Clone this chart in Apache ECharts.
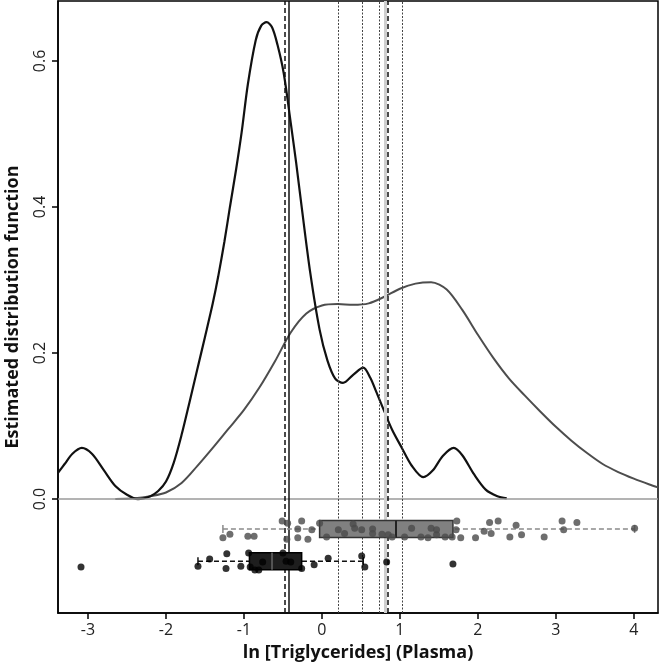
<!DOCTYPE html>
<html>
<head>
<meta charset="utf-8">
<script src="https://cdn.jsdelivr.net/npm/echarts@6/dist/echarts.min.js"></script>
<style>
  html, body { margin: 0; background: #fff; }
  #chart { width: 660px; height: 667px; }
</style>
</head>
<body>
<div id="chart"></div>
<script>
// axis ticks
const xTicks = [-3, -2, -1, 0, 1, 2, 3, 4];
const yTicks = [0, 0.2, 0.4, 0.6];

// density estimates [x, density]
const blackDensity = [
  [-3.385, 0.036], [-3.3, 0.048], [-3.2, 0.062], [-3.08, 0.07], [-2.95, 0.062],
  [-2.8, 0.04], [-2.65, 0.018], [-2.5, 0.006], [-2.36, 0.0], [-2.2, 0.004],
  [-2.1, 0.011], [-2.0, 0.024], [-1.9, 0.05], [-1.8, 0.088], [-1.7, 0.132],
  [-1.6, 0.177], [-1.5, 0.222], [-1.4, 0.268], [-1.33, 0.305], [-1.25, 0.353],
  [-1.18, 0.40], [-1.1, 0.452], [-1.03, 0.502], [-0.95, 0.568], [-0.85, 0.628],
  [-0.78, 0.648], [-0.71, 0.653], [-0.64, 0.646], [-0.57, 0.622], [-0.49, 0.583],
  [-0.4, 0.515], [-0.33, 0.46], [-0.26, 0.40], [-0.15, 0.31], [-0.03, 0.232],
  [0.07, 0.19], [0.17, 0.165], [0.27, 0.159], [0.4, 0.17], [0.53, 0.18],
  [0.62, 0.166], [0.7, 0.146], [0.8, 0.12], [0.9, 0.095], [1.02, 0.071],
  [1.15, 0.046], [1.3, 0.03], [1.42, 0.039], [1.55, 0.059], [1.69, 0.07],
  [1.8, 0.06], [1.95, 0.034], [2.1, 0.013], [2.25, 0.004], [2.37, 0.001]
];
const grayDensity = [
  [-2.65, 0.0], [-2.4, 0.001], [-2.2, 0.004], [-2.0, 0.009], [-1.8, 0.022],
  [-1.6, 0.045], [-1.4, 0.07], [-1.2, 0.096], [-1.0, 0.122], [-0.8, 0.153],
  [-0.6, 0.189], [-0.4, 0.228], [-0.2, 0.254], [0.0, 0.265], [0.2, 0.267],
  [0.4, 0.266], [0.6, 0.268], [0.8, 0.277], [1.0, 0.288], [1.2, 0.295],
  [1.4, 0.297], [1.6, 0.287], [1.8, 0.259], [2.0, 0.225], [2.2, 0.193],
  [2.4, 0.165], [2.6, 0.142], [2.8, 0.12], [3.0, 0.099], [3.2, 0.08],
  [3.4, 0.063], [3.6, 0.048], [3.8, 0.037], [4.0, 0.028], [4.2, 0.02], [4.31, 0.016]
];

// box statistics [yCentre, low whisker, q1, median, q3, high whisker]
const grayBox = [[-0.041, -1.27, -0.03, 0.95, 1.68, 4.01]];
const blackBox = [[-0.085, -1.59, -0.93, -0.64, -0.26, 0.53]];

// jittered observations [x, y]
const grayPoints = [
  [-1.27, -0.053], [-1.18, -0.048], [-0.95, -0.051], [-0.87, -0.051], [-0.51, -0.03],
  [-0.44, -0.033], [-0.26, -0.03], [-0.31, -0.041], [-0.45, -0.055], [-0.31, -0.053],
  [-0.18, -0.055], [-0.13, -0.042], [-0.03, -0.033], [0.06, -0.052], [0.21, -0.042],
  [0.29, -0.047], [0.40, -0.034], [0.42, -0.04], [0.51, -0.042], [0.65, -0.041],
  [0.65, -0.047], [0.77, -0.048], [0.85, -0.049], [0.90, -0.052], [1.06, -0.052],
  [1.15, -0.04], [1.27, -0.052], [1.36, -0.053], [1.40, -0.04], [1.47, -0.042],
  [1.47, -0.049], [1.58, -0.052], [1.67, -0.052], [1.73, -0.03], [1.72, -0.042],
  [1.78, -0.053], [1.97, -0.053], [2.08, -0.044], [2.15, -0.032], [2.17, -0.047],
  [2.26, -0.03], [2.41, -0.052], [2.49, -0.036], [2.56, -0.049], [2.85, -0.052],
  [3.08, -0.03], [3.10, -0.042], [3.27, -0.032], [4.01, -0.04]
];
const blackPoints = [
  [-3.09, -0.093], [-1.59, -0.092], [-1.44, -0.082], [-1.22, -0.075], [-1.23, -0.095],
  [-1.04, -0.092], [-0.94, -0.074], [-0.92, -0.093], [-0.86, -0.097], [-0.81, -0.097],
  [-0.76, -0.086], [-0.50, -0.074], [-0.46, -0.085], [-0.40, -0.086], [-0.26, -0.095],
  [-0.10, -0.09], [0.08, -0.081], [0.51, -0.078], [0.55, -0.093], [0.83, -0.086],
  [1.68, -0.089]
];

// reference lines
const dashedLines = [-0.485, 0.837];
const solidLines = [-0.425];
const grayBandLines = [0.81];
const dottedLines = [0.209, 0.517, 0.744, 1.03];

const FONT = 'Open Sans';

function boxRenderer(whisker, fill, border, medianColor) {
  return function (params, api) {
    const y = api.value(0);
    const lo = api.coord([api.value(1), y]);
    const q1 = api.coord([api.value(2), y]);
    const md = api.coord([api.value(3), y]);
    const q3 = api.coord([api.value(4), y]);
    const hi = api.coord([api.value(5), y]);
    const h = 8.5;
    return {
      type: 'group',
      children: [
        { type: 'line', shape: { x1: lo[0], y1: lo[1], x2: hi[0], y2: hi[1] },
          style: { stroke: whisker, lineWidth: 1.5, lineDash: [5, 3] } },
        { type: 'line', shape: { x1: lo[0], y1: lo[1] - 4, x2: lo[0], y2: lo[1] + 4 },
          style: { stroke: whisker, lineWidth: 1.5 } },
        { type: 'line', shape: { x1: hi[0], y1: hi[1] - 4, x2: hi[0], y2: hi[1] + 4 },
          style: { stroke: whisker, lineWidth: 1.5 } },
        { type: 'rect', shape: { x: q1[0], y: q1[1] - h, width: q3[0] - q1[0], height: 2 * h },
          style: { fill: fill, stroke: border, lineWidth: 1.5 } },
        { type: 'line', shape: { x1: md[0], y1: md[1] - h, x2: md[0], y2: md[1] + h },
          style: { stroke: medianColor, lineWidth: 2 } }
      ]
    };
  };
}

function vLines(values, style) {
  return values.map(v => ({ xAxis: v, lineStyle: style }));
}

const chart = echarts.init(document.getElementById('chart'));
chart.setOption({
  animation: false,
  backgroundColor: '#fff',
  grid: {
    left: 58, right: 2, top: 1, bottom: 54,
    containLabel: false, outerBoundsMode: 'none',
    show: true, borderColor: '#000', borderWidth: 1.5
  },
  xAxis: {
    type: 'value',
    min: -3.385, max: 4.31,
    name: 'ln [Triglycerides] (Plasma)',
    nameLocation: 'middle', nameGap: 31,
    nameTextStyle: { fontFamily: FONT, fontSize: 18, fontWeight: 'bold', color: '#111' },
    axisLine: { show: true, onZero: false, lineStyle: { color: '#000', width: 1.5 } },
    axisTick: { show: true, length: 6, customValues: xTicks, lineStyle: { color: '#000', width: 1.5 } },
    axisLabel: { customValues: xTicks, margin: 9, fontFamily: FONT, fontSize: 16, color: '#222' },
    splitLine: { show: false }
  },
  yAxis: {
    type: 'value',
    min: -0.156, max: 0.682,
    name: 'Estimated distribution function',
    nameLocation: 'middle', nameGap: 36,
    nameTextStyle: { fontFamily: FONT, fontSize: 18, fontWeight: 'bold', color: '#111' },
    axisLine: { show: true, onZero: false, lineStyle: { color: '#000', width: 1.5 } },
    axisTick: { show: true, length: 6, customValues: yTicks, lineStyle: { color: '#000', width: 1.5 } },
    axisLabel: {
      customValues: yTicks, rotate: 90, margin: 10,
      formatter: v => v.toFixed(1),
      fontFamily: FONT, fontSize: 16, color: '#222'
    },
    splitLine: { show: false }
  },
  series: [
    {
      type: 'line', data: grayDensity, smooth: 0.3, symbol: 'none', z: 3,
      lineStyle: { color: '#4d4d4d', width: 2 }
    },
    {
      type: 'line', data: blackDensity, smooth: 0.3, symbol: 'none', z: 4,
      lineStyle: { color: '#111', width: 2.2 },
      markLine: {
        silent: true, symbol: 'none', label: { show: false },
        data: [
          { yAxis: 0, lineStyle: { color: '#9a9a9a', width: 1.5, type: 'solid' } }
        ].concat(
          vLines(dottedLines, { color: '#444', width: 1, type: [2, 1.5] }),
          vLines(grayBandLines, { color: '#cfcfcf', width: 3, type: 'solid' }),
          vLines(solidLines, { color: '#111', width: 1.5, type: 'solid' }),
          vLines(dashedLines, { color: '#111', width: 1.5, type: [5, 3] })
        )
      }
    },
    {
      type: 'custom', data: grayBox, z: 5,
      encode: { x: [1, 5], y: 0 },
      renderItem: boxRenderer('#8a8a8a', '#808080', '#333', '#222')
    },
    {
      type: 'custom', data: blackBox, z: 5,
      encode: { x: [1, 5], y: 0 },
      renderItem: boxRenderer('#111', '#1e1e1e', '#000', '#555')
    },
    {
      type: 'scatter', data: grayPoints, symbolSize: 7, z: 6,
      itemStyle: { color: '#4a4a4a' }
    },
    {
      type: 'scatter', data: blackPoints, symbolSize: 7, z: 6,
      itemStyle: { color: '#000' }
    }
  ]
});
</script>
</body>
</html>
